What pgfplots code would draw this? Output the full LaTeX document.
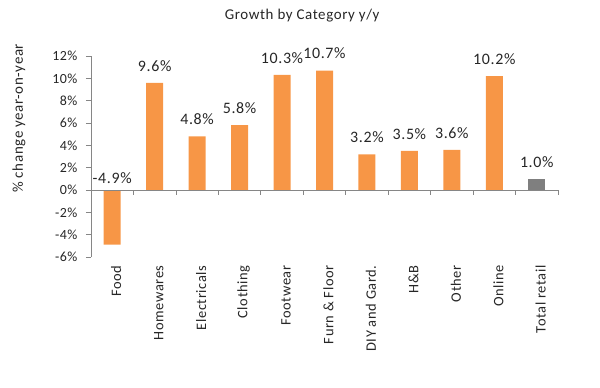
\documentclass[border=0pt]{standalone}
\usepackage{pgfplots}
\pgfplotsset{compat=1.18}
\usepackage{fontspec}
\setmainfont{Carlito}[LetterSpace=4]
\definecolor{barorange}{HTML}{F79646}
\definecolor{bargray}{HTML}{7F7F7F}
\definecolor{axisgray}{HTML}{868686}
\definecolor{txt}{HTML}{262626}
\begin{document}
\begin{tikzpicture}
\useasboundingbox (-91bp,-131bp) rectangle (509bp,257bp);
\begin{axis}[
  at={(0,0)}, anchor=south west,
  scale only axis, width=467bp, height=201bp,
  xmin=-0.5, xmax=10.5, ymin=-6, ymax=12,
  axis y line*=left, axis x line*=bottom,
  x axis line style={draw=none},
  y axis line style={axisgray, line width=0.8pt},
  ytick={-6,-4,...,12},
  yticklabel={\pgfmathprintnumber{\tick}\%},
  /pgf/number format/assume math mode=true,
  yticklabel style={font=\fontsize{14}{15}\selectfont, text=txt, xshift=-5bp},
  ytick style={axisgray, line width=0.8pt},
  tick align=outside, major tick length=5bp,
  xtick={0,...,10},
  xtick style={draw=none},
  xticklabels={Food,Homewares,Electricals,Clothing,Footwear,Furn \& Floor,DIY and Gard.,H\&B,Other,Online,Total retail},
  xticklabel style={rotate=90, anchor=east, font=\fontsize{14.5}{15}\selectfont, text=txt, yshift=-4bp},
  ylabel={\% change year-on-year},
  ylabel style={font=\fontsize{15}{16}\selectfont, text=txt, at={(-0.154,0.69)}, anchor=center, rotate=0},
  title={Growth by Category y/y},
  title style={font=\fontsize{15}{16}\selectfont, text=txt, at={(0.452,1.169)}, anchor=center},
  clip=false,
]
\addplot[ybar, bar width=17bp, fill=barorange, draw=none] coordinates {
  (0,-4.9) (1,9.6) (2,4.8) (3,5.8) (4,10.3) (5,10.7) (6,3.2) (7,3.5) (8,3.6) (9,10.2)
};
\addplot[ybar, bar width=17bp, fill=bargray, draw=none] coordinates {(10,1.0)};
\draw[axisgray, line width=0.8pt] (axis cs:-0.5,0) -- (axis cs:10.5,0);
\pgfplotsinvokeforeach{-0.5,0.5,1.5,2.5,3.5,4.5,5.5,6.5,7.5,8.5,9.5,10.5}{
  \draw[axisgray, line width=0.8pt] (axis cs:#1,0) -- ([yshift=-5bp]axis cs:#1,0);
}
\addplot[only marks, mark=none, nodes near coords, point meta=explicit symbolic,
  nodes near coords style={anchor=center, yshift=17bp, font=\fontsize{16}{17}\selectfont, text=txt}]
  table[meta=label] {
x y label
1 9.6 9.6\%
2 4.8 4.8\%
3 5.8 5.8\%
4 10.3 10.3\%
5 10.7 10.7\%
6 3.2 3.2\%
7 3.5 3.5\%
8 3.6 3.6\%
9 10.2 10.2\%
10 1.0 1.0\%
};
\addplot[only marks, mark=none, nodes near coords, point meta=explicit symbolic,
  nodes near coords style={anchor=center, yshift=12bp, font=\fontsize{16}{17}\selectfont, text=txt}]
  table[meta=label] {
x y label
0 0 -4.9\%
};
\end{axis}
\end{tikzpicture}
\end{document}
